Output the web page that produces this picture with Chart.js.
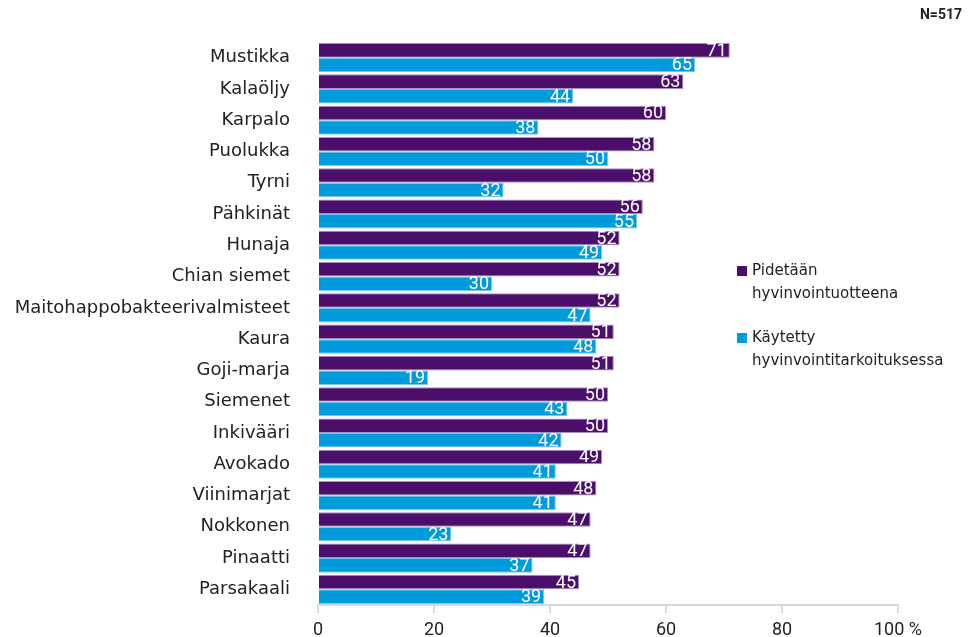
<!DOCTYPE html>
<html>
<head>
<meta charset="utf-8">
<script src="https://cdn.jsdelivr.net/npm/chart.js@4"></script>
<style>
  html, body { margin: 0; padding: 0; background: #fff; }
  #wrap { width: 968px; height: 637px; position: relative; }
</style>
</head>
<body>
<div id="wrap"><canvas id="chart" width="968" height="637"></canvas></div>
<script>
const categories = ["Mustikka", "Kalaöljy", "Karpalo", "Puolukka", "Tyrni", "Pähkinät", "Hunaja",
  "Chian siemet", "Maitohappobakteerivalmisteet", "Kaura", "Goji-marja", "Siemenet", "Inkivääri",
  "Avokado", "Viinimarjat", "Nokkonen", "Pinaatti", "Parsakaali"];
const pidetaan = [71, 63, 60, 58, 58, 56, 52, 52, 52, 51, 51, 50, 50, 49, 48, 47, 47, 45];
const kaytetty = [65, 44, 38, 50, 32, 55, 49, 30, 47, 48, 19, 43, 42, 41, 41, 23, 37, 39];
const seriesNames = [["Pidetään", "hyvinvointuotteena"], ["Käytetty", "hyvinvointitarkoituksessa"]];
const xTicks = [0, 20, 40, 60, 80, 100];

const purple = "#4b0f6b";
const blue = "#009bdb";
const textColor = "#222";

// white numbers at the end of each bar
const barLabels = {
  id: "barLabels",
  afterDatasetsDraw(chart) {
    const ctx = chart.ctx;
    ctx.save();
    ctx.font = "18px Roboto";
    ctx.fillStyle = "#fff";
    ctx.textAlign = "right";
    ctx.textBaseline = "middle";
    chart.data.datasets.forEach((ds, i) => {
      chart.getDatasetMeta(i).data.forEach((el, j) => {
        ctx.fillText(ds.data[j], el.x - 3, el.y + 1);
      });
    });
    ctx.restore();
  }
};

// legend at right + N text
const sideText = {
  id: "sideText",
  afterDraw(chart) {
    const ctx = chart.ctx;
    ctx.save();
    ctx.font = "15px 'DejaVu Sans'";
    ctx.fillStyle = textColor;
    ctx.textBaseline = "middle";
    const colors = [purple, blue];
    const tops = [271, 338];
    seriesNames.forEach((lines, i) => {
      ctx.fillStyle = colors[i];
      ctx.fillRect(737, tops[i] - 5, 10, 10);
      ctx.fillStyle = textColor;
      ctx.fillText(lines[0], 752, tops[i]);
      ctx.fillText(lines[1], 752, tops[i] + 23);
    });
    ctx.font = "bold 14px Roboto";
    ctx.textAlign = "right";
    ctx.fillText("N=517", 962, 15);
    ctx.restore();
  }
};

new Chart(document.getElementById("chart"), {
  type: "bar",
  data: {
    labels: categories,
    datasets: [
      { label: seriesNames[0].join(" "), data: pidetaan, backgroundColor: purple, borderColor: "#a98fbf", borderWidth: 1 },
      { label: seriesNames[1].join(" "), data: kaytetty, backgroundColor: blue, borderColor: "#7cc8ec", borderWidth: 1 }
    ]
  },
  options: {
    indexAxis: "y",
    responsive: false,
    animation: false,
    categoryPercentage: 0.93,
    barPercentage: 1.0,
    layout: { padding: { top: 42, right: 70, bottom: 0, left: 0 } },
    plugins: {
      legend: { display: false },
      tooltip: { enabled: false }
    },
    scales: {
      x: {
        min: 0,
        max: 100,
        afterBuildTicks(scale) { scale.ticks = xTicks.map(v => ({ value: v })); },
        afterFit(scale) { scale.height = 32; },
        ticks: {
          color: textColor,
          font: { family: "Roboto", size: 18 },
          padding: 7,
          callback: v => v === 100 ? "100 %" : v
        },
        grid: { drawOnChartArea: false, drawTicks: true, tickLength: 8, color: "#d9d9d9", lineWidth: 2 },
        border: { color: "#d9d9d9", width: 2 }
      },
      y: {
        afterFit(scale) { scale.width = 318; },
        ticks: {
          color: textColor,
          font: { family: "DejaVu Sans", size: 18 },
          padding: 20
        },
        grid: { display: false },
        border: { display: false }
      }
    }
  },
  plugins: [barLabels, sideText]
});
</script>
</body>
</html>
